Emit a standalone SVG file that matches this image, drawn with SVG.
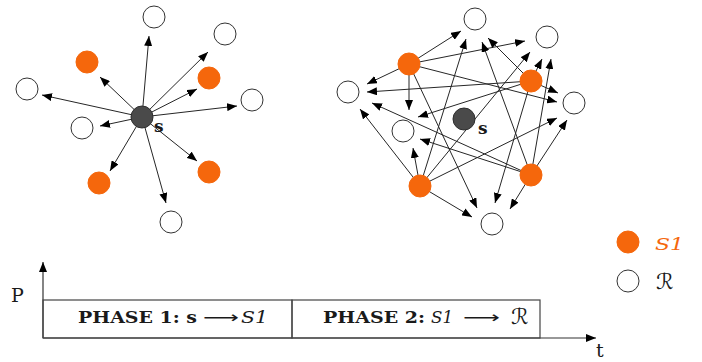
<svg xmlns="http://www.w3.org/2000/svg" width="702" height="362" viewBox="0 0 702 362">
  <style>
    .edge { stroke: #262626; stroke-width: 1; fill: none; marker-end: url(#head); }
    .axis { stroke: #333; stroke-width: 1.2; fill: none; }
    .relay { fill: #ffffff; stroke: #333; stroke-width: 1; }
    .sel { fill: #f5670c; stroke: #f5670c; stroke-width: 1; }
    .src { fill: #4a4a4a; stroke: #2e2e2e; stroke-width: 1; }
    .lbl { font-family: "DejaVu Serif", "Liberation Serif", serif; font-weight: bold; font-size: 17px; fill: #1a1a1a; }
    .phase { font-family: "DejaVu Serif", "Liberation Serif", serif; font-weight: bold; font-size: 16px; fill: #1a1a1a; }
    .script { font-family: "DejaVu Serif", "Liberation Serif", serif; font-style: italic; font-size: 17px; fill: #1a1a1a; }
    .cal { font-family: "DejaVu Serif", "DejaVu Sans", serif; font-size: 22px; fill: #1a1a1a; }
    .arr { font-family: "DejaVu Sans", sans-serif; font-size: 16px; fill: #1a1a1a; }
    .ax { font-family: "DejaVu Serif", "Liberation Serif", serif; font-size: 19px; fill: #1a1a1a; }
  </style>
  <defs>
    <marker id="head" markerUnits="userSpaceOnUse" markerWidth="10" markerHeight="8" refX="10" refY="4" orient="auto">
      <path d="M0,0 L10,4 L0,8 z" fill="#000"/>
    </marker>
    <marker id="axhead" markerUnits="userSpaceOnUse" markerWidth="10" markerHeight="8" refX="10" refY="4" orient="auto">
      <path d="M0,0 L10,4 L0,8 z" fill="#000"/>
    </marker>
  </defs>
  <rect width="702" height="362" fill="#ffffff"/>

  <!-- phase 1: source broadcast -->
  <g id="connectors-phase1">
    <line class="edge" x1="142" y1="117" x2="149" y2="36"/>
    <line class="edge" x1="142" y1="117" x2="208" y2="52"/>
    <line class="edge" x1="142" y1="117" x2="197" y2="89"/>
    <line class="edge" x1="142" y1="117" x2="237" y2="106"/>
    <line class="edge" x1="142" y1="117" x2="100" y2="77"/>
    <line class="edge" x1="142" y1="117" x2="42" y2="95"/>
    <line class="edge" x1="142" y1="117" x2="100" y2="126"/>
    <line class="edge" x1="142" y1="117" x2="110" y2="171"/>
    <line class="edge" x1="142" y1="117" x2="166" y2="203"/>
    <line class="edge" x1="142" y1="117" x2="197" y2="161"/>
  </g>

  <!-- phase 2: selected relays forward to the rest -->
  <g id="connectors-phase2">
    <!-- from A (409,64) -->
    <line class="edge" x1="409" y1="64" x2="461" y2="31"/>
    <line class="edge" x1="409" y1="64" x2="525" y2="41"/>
    <line class="edge" x1="409" y1="64" x2="367" y2="84"/>
    <line class="edge" x1="409" y1="64" x2="409" y2="110"/>
    <line class="edge" x1="409" y1="64" x2="557" y2="102"/>
    <line class="edge" x1="409" y1="64" x2="477" y2="208"/>
    <!-- from B (531,81) -->
    <line class="edge" x1="531" y1="81" x2="488" y2="38"/>
    <line class="edge" x1="531" y1="81" x2="542" y2="59"/>
    <line class="edge" x1="531" y1="81" x2="367" y2="92"/>
    <line class="edge" x1="531" y1="81" x2="418" y2="117"/>
    <line class="edge" x1="531" y1="81" x2="558" y2="93"/>
    <line class="edge" x1="531" y1="81" x2="495" y2="203"/>
    <!-- from C (420,186) -->
    <line class="edge" x1="420" y1="186" x2="360" y2="109"/>
    <line class="edge" x1="420" y1="186" x2="413" y2="148"/>
    <line class="edge" x1="420" y1="186" x2="466" y2="39"/>
    <line class="edge" x1="420" y1="186" x2="530" y2="52"/>
    <line class="edge" x1="420" y1="186" x2="557" y2="118"/>
    <line class="edge" x1="420" y1="186" x2="472" y2="217"/>
    <!-- from D (531,175) -->
    <line class="edge" x1="531" y1="175" x2="482" y2="42"/>
    <line class="edge" x1="531" y1="175" x2="551" y2="59"/>
    <line class="edge" x1="531" y1="175" x2="372" y2="103"/>
    <line class="edge" x1="531" y1="175" x2="420" y2="139"/>
    <line class="edge" x1="531" y1="175" x2="567" y2="120"/>
    <line class="edge" x1="531" y1="175" x2="510" y2="209"/>
  </g>

  <!-- left cluster nodes -->
  <g id="n1-r1"><circle class="relay" cx="154" cy="17" r="11"/></g>
  <g id="n1-r2"><circle class="relay" cx="225" cy="34" r="11"/></g>
  <g id="n1-r3"><circle class="relay" cx="27" cy="89" r="11"/></g>
  <g id="n1-r4"><circle class="relay" cx="252" cy="100" r="11"/></g>
  <g id="n1-r5"><circle class="relay" cx="82" cy="128" r="11"/></g>
  <g id="n1-r6"><circle class="relay" cx="171" cy="222" r="11"/></g>
  <g id="n1-s1"><circle class="sel" cx="87" cy="62" r="11"/></g>
  <g id="n1-s2"><circle class="sel" cx="209" cy="78" r="11"/></g>
  <g id="n1-s3"><circle class="sel" cx="99" cy="183" r="11"/></g>
  <g id="n1-s4"><circle class="sel" cx="209" cy="172" r="11"/></g>
  <g id="n1-source">
    <circle class="src" cx="142" cy="117" r="11"/>
    <text class="lbl" x="154" y="132">s</text>
  </g>

  <!-- right cluster nodes -->
  <g id="n2-r1"><circle class="relay" cx="475" cy="19" r="11"/></g>
  <g id="n2-r2"><circle class="relay" cx="547" cy="37" r="11"/></g>
  <g id="n2-r3"><circle class="relay" cx="348" cy="92" r="11"/></g>
  <g id="n2-r4"><circle class="relay" cx="574" cy="103" r="11"/></g>
  <g id="n2-r5"><circle class="relay" cx="403" cy="131" r="11"/></g>
  <g id="n2-r6"><circle class="relay" cx="492" cy="224" r="11"/></g>
  <g id="n2-s1"><circle class="sel" cx="409" cy="64" r="11"/></g>
  <g id="n2-s2"><circle class="sel" cx="531" cy="81" r="11"/></g>
  <g id="n2-s3"><circle class="sel" cx="420" cy="186" r="11"/></g>
  <g id="n2-s4"><circle class="sel" cx="531" cy="175" r="11"/></g>
  <g id="n2-source">
    <circle class="src" cx="464" cy="119" r="11"/>
    <text class="lbl" x="478" y="134">s</text>
  </g>

  <!-- legend -->
  <g id="legend-selected">
    <circle class="sel" cx="628" cy="242" r="11"/>
    <text class="script" x="655" y="250" style="fill:#f5670c" textLength="29" lengthAdjust="spacingAndGlyphs">S1</text>
  </g>
  <g id="legend-relays">
    <circle class="relay" cx="628" cy="281" r="11"/>
    <text class="cal" x="656" y="289">ℛ</text>
  </g>

  <!-- time/power axes -->
  <g id="axes">
    <line class="axis" x1="43" y1="338" x2="43" y2="262" marker-end="url(#axhead)"/>
    <line class="axis" x1="43" y1="338" x2="596" y2="338" marker-end="url(#axhead)"/>
    <text class="ax" x="11" y="302">P</text>
    <text class="ax" x="596" y="357">t</text>
  </g>

  <!-- phase boxes -->
  <g id="phase1">
    <rect x="43" y="300" width="249" height="38" fill="none" stroke="#444" stroke-width="1.2"/>
    <text class="phase" x="78" y="323" textLength="119" lengthAdjust="spacingAndGlyphs">PHASE 1: s</text>
    <text class="arr" x="203" y="323" textLength="36" lengthAdjust="spacingAndGlyphs">⟶</text>
    <text class="script" x="241" y="323" textLength="27" lengthAdjust="spacingAndGlyphs">S1</text>
  </g>
  <g id="phase2">
    <rect x="292" y="300" width="248" height="38" fill="none" stroke="#444" stroke-width="1.2"/>
    <text class="phase" x="323" y="323" textLength="102" lengthAdjust="spacingAndGlyphs">PHASE 2:</text>
    <text class="script" x="431" y="323" textLength="22" lengthAdjust="spacingAndGlyphs">S1</text>
    <text class="arr" x="463" y="323" textLength="37" lengthAdjust="spacingAndGlyphs">⟶</text>
    <text class="cal" x="511" y="324">ℛ</text>
  </g>
</svg>
